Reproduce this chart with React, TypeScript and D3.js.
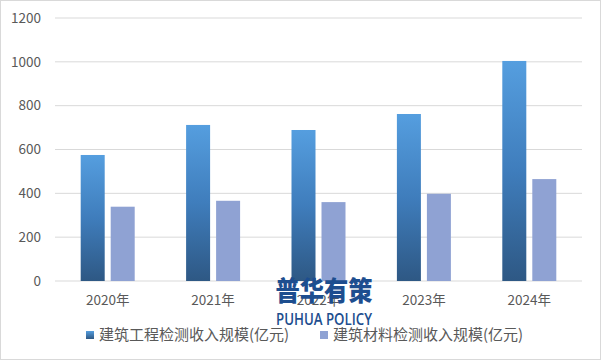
import React from "react";
import * as d3 from "d3";

const categories = ["2020年", "2021年", "2022年", "2023年", "2024年"];
const engineering = [575, 712, 689, 762, 1004];
const materials = [339, 366, 360, 398, 465];
const seriesNames = ["建筑工程检测收入规模(亿元)", "建筑材料检测收入规模(亿元)"];
const yTicks = [0, 200, 400, 600, 800, 1000, 1200];

const W = 601;
const H = 360;
const FONT = "'Noto Sans CJK SC', 'Noto Sans', sans-serif";

export default function App() {
  const x0 = d3.scaleBand<string>().domain(categories).range([55, 582]);
  const y = d3.scaleLinear().domain([0, 1200]).range([281, 18]);
  const barW = 24;
  const gap = 6;

  return (
    <div style={{ position: "fixed", left: 0, top: 0 }}>
      <svg width={W} height={H} style={{ display: "block", background: "#fff" }}>
        <defs>
          <linearGradient id="blueGrad" x1="0" y1="0" x2="0" y2="1">
            <stop offset="0%" stopColor="#559edf" />
            <stop offset="50%" stopColor="#3f7dbc" />
            <stop offset="100%" stopColor="#2e5884" />
          </linearGradient>
          <linearGradient id="blueGradLegend" x1="0" y1="0" x2="0" y2="1">
            <stop offset="0%" stopColor="#559edf" />
            <stop offset="100%" stopColor="#2e5884" />
          </linearGradient>
        </defs>
        <rect x={0.5} y={0.5} width={W - 1} height={H - 1} fill="#fff" stroke="#d9d9d9" />
        {yTicks.map((t) => (
          <g key={t}>
            <line x1={55} x2={582} y1={y(t)} y2={y(t)} stroke="#d9d9d9" strokeWidth={1} />
            <text x={41} y={y(t)} dy="0.35em" textAnchor="end" fontSize={13.5} fill="#595959" fontFamily={FONT}>
              {t}
            </text>
          </g>
        ))}
        {categories.map((c, i) => {
          const cx = (x0(c) as number) + x0.bandwidth() / 2;
          return (
            <g key={c}>
              <rect
                x={cx - gap / 2 - barW}
                y={y(engineering[i])}
                width={barW}
                height={y(0) - y(engineering[i])}
                fill="url(#blueGrad)"
              />
              <rect
                x={cx + gap / 2}
                y={y(materials[i])}
                width={barW}
                height={y(0) - y(materials[i])}
                fill="#8fa2d3"
              />
              <text x={cx} y={300} dy="0.35em" textAnchor="middle" fontSize={13.5} fill="#595959" fontFamily={FONT}>
                {c}
              </text>
            </g>
          );
        })}
        {/* watermark */}
        <text x={324} y={301} textAnchor="middle" fontSize={27} fontWeight={900} fill="#1d4e8f" fontFamily={FONT} textLength={97} lengthAdjust="spacingAndGlyphs">
          普华有策
        </text>
        <text x={324} y={325} textAnchor="middle" fontSize={16} fontWeight={600} fill="#1d4e8f" fontFamily="'Open Sans', sans-serif" textLength={96} lengthAdjust="spacingAndGlyphs">
          PUHUA POLICY
        </text>
        {/* legend */}
        <rect x={86} y={331} width={8} height={8} fill="url(#blueGradLegend)" />
        <text x={99} y={335} dy="0.35em" fontSize={15} fill="#595959" fontFamily={FONT}>
          {seriesNames[0]}
        </text>
        <rect x={320} y={331} width={8} height={8} fill="#8fa2d3" />
        <text x={333} y={335} dy="0.35em" fontSize={15} fill="#595959" fontFamily={FONT}>
          {seriesNames[1]}
        </text>
      </svg>
    </div>
  );
}
